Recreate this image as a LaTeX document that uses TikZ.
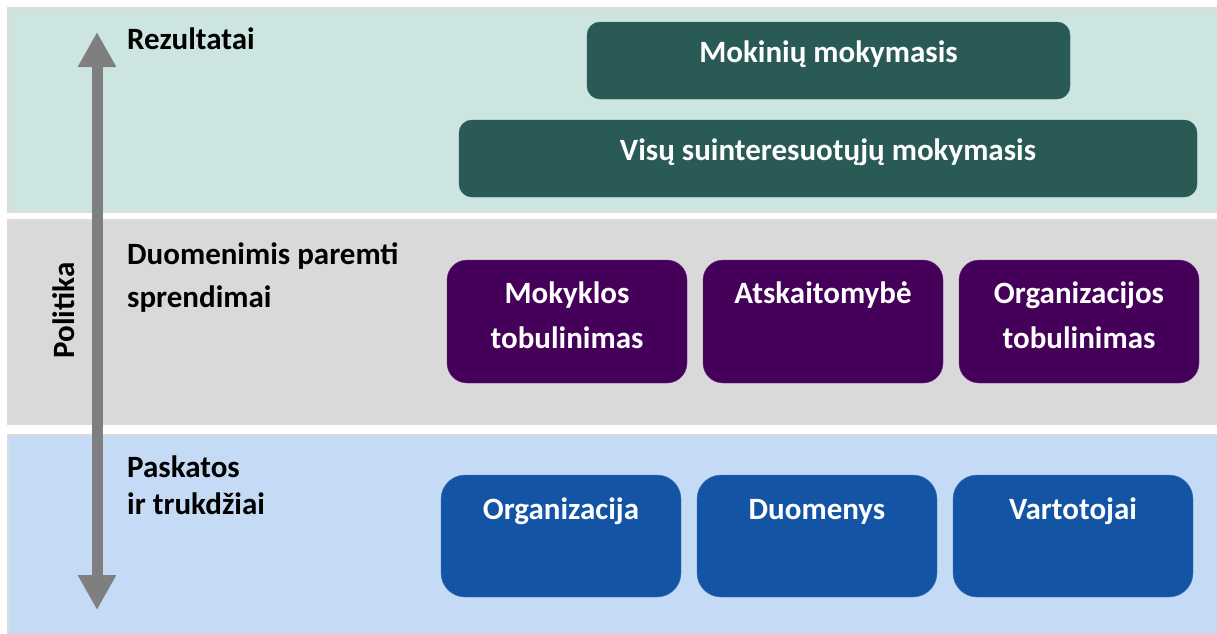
\documentclass[tikz,border=0pt]{standalone}
\usepackage{fontspec}
\setmainfont{Carlito}
\usetikzlibrary{arrows.meta}

\definecolor{bandteal}{HTML}{CCE5E1}
\definecolor{bandgray}{HTML}{D9D9D9}
\definecolor{bandblue}{HTML}{C5DAF5}
\definecolor{bandline}{HTML}{DCDCDC}
\definecolor{darkteal}{HTML}{2A5A56}
\definecolor{boxpurple}{HTML}{45005A}
\definecolor{boxblue}{HTML}{1354A5}
\definecolor{arrowgray}{HTML}{7F7F7F}

\tikzset{
	band/.style={draw=bandline, line width=1.5pt},
	lbl/.style={anchor=base west, align=left, inner sep=0pt, font=\bfseries\fontsize{31}{43}\selectfont},
	box/.style={inner sep=0pt, text=white, align=center, minimum width=240pt, minimum height=123pt, font=\bfseries\fontsize{31}{45}\selectfont},
	topbox/.style={box, fill=darkteal, draw=darkteal, rounded corners=13pt, minimum height=77pt, text height=21pt, text depth=17pt},
	midbox/.style={box, fill=boxpurple, draw=boxpurple!80!white, rounded corners=20pt, text height=66pt, text depth=13pt},
	lowbox/.style={box, fill=boxblue, draw=boxblue!80!white, rounded corners=24pt, minimum height=122pt, text height=66pt, text depth=10pt}
}

\begin{document}
\begin{tikzpicture}[x=1pt,y=-1pt]
	\useasboundingbox (0,0) rectangle (1217,633);
	
	% the three layers
	\draw[band, fill=bandteal] (8,8) rectangle (1218,212);
	\draw[band, fill=bandgray] (8,220) rectangle (1218,424);
	\draw[band, fill=bandblue] (8,435) rectangle (1218,640);
	
	% policy arrow
	\coordinate (up) at (97,32);
	\coordinate (down) at (97,610);
	\draw[arrowgray, line width=11pt, {Triangle[width=36pt,length=35pt]}-{Triangle[width=36pt,length=35pt]}] (up) -- (down);
	\node[rotate=90, inner sep=0pt, font=\bfseries\fontsize{31}{37}\selectfont] (pol) at (64,310.5) {Politika};
	
	% layer names (anchored on the last line)
	\node[lbl] (res) at (127,49.3) {Rezultatai};
	\node[lbl] (dec) at (127,307.3) {Duomenimis paremti\\sprendimai};
	\node[lbl, font=\bfseries\fontsize{31}{37}\selectfont] (drv) at (127,514) {Paskatos\\ir trukdžiai};
	
	% results
	\node[topbox, minimum width=483pt] (stud) at (828.5,60.5) {Mokinių mokymasis};
	\node[topbox, minimum width=738pt] (all) at (828,158.5) {Visų suinteresuotųjų mokymasis};
	
	% decisions
	\node[midbox] (school) at (567,321.5) {Mokyklos\\tobulinimas};
	\node[midbox] (acc) at (823,321.5) {Atskaitomybė\\~};
	\node[midbox] (orgimp) at (1079,321.5) {Organizacijos\\tobulinimas};
	
	% drivers and barriers
	\node[lowbox] (org) at (561,536) {Organizacija\\~};
	\node[lowbox] (data) at (817,536) {Duomenys\\~};
	\node[lowbox] (users) at (1073,536) {Vartotojai\\~};
\end{tikzpicture}
\end{document}
